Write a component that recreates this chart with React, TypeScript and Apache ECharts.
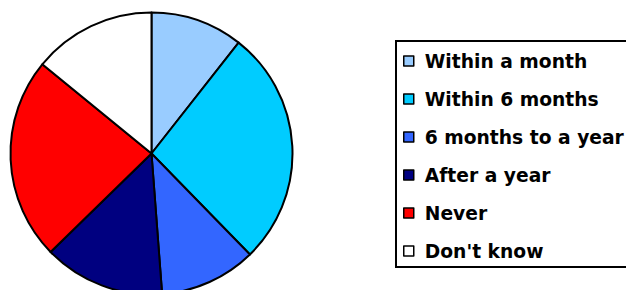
import React, { useEffect, useRef } from "react";
import * as echarts from "echarts";

const categories = [
  "Within a month",
  "Within 6 months",
  "6 months to a year",
  "After a year",
  "Never",
  "Don't know",
];
const values = [10.6, 27.1, 11.1, 13.9, 23.2, 14.1];
const colors = ["#99CCFF", "#00CCFF", "#3366FF", "#000080", "#FF0000", "#FFFFFF"];

export default function App() {
  const ref = useRef<HTMLDivElement>(null);
  useEffect(() => {
    document.body.style.margin = "0";
    const chart = echarts.init(ref.current!, null, { renderer: "svg" });
    chart.setOption({
      animation: false,
      backgroundColor: "#FFFFFF",
      color: colors,
      graphic: [
        {
          type: "rect",
          shape: { x: 396, y: 41, width: 280, height: 226 },
          style: { fill: "none", stroke: "#000", lineWidth: 2 },
          z: 0,
        },
      ],
      legend: {
        orient: "vertical",
        left: 403,
        top: 51,
        padding: 0,
        itemWidth: 10,
        itemHeight: 10,
        itemGap: 18,
        icon: "rect",
        itemStyle: { borderColor: "#000", borderWidth: 1.5 },
        textStyle: {
          fontFamily: "DejaVu Sans",
          fontWeight: "bold",
          fontSize: 18.7,
          lineHeight: 20,
          color: "#000",
          padding: [0, 0, 0, 6],
        },
        data: categories,
      },
      series: [
        {
          type: "pie",
          center: [151.5, 153.5],
          radius: 141,
          startAngle: 90,
          clockwise: true,
          label: { show: false },
          labelLine: { show: false },
          emphasis: { disabled: true },
          itemStyle: { borderColor: "#000", borderWidth: 2 },
          data: categories.map((name, i) => ({
            name,
            value: values[i],
            itemStyle: { color: colors[i] },
          })),
        },
      ],
    });
    return () => chart.dispose();
  }, []);
  return <div ref={ref} style={{ width: 626, height: 290 }} />;
}
